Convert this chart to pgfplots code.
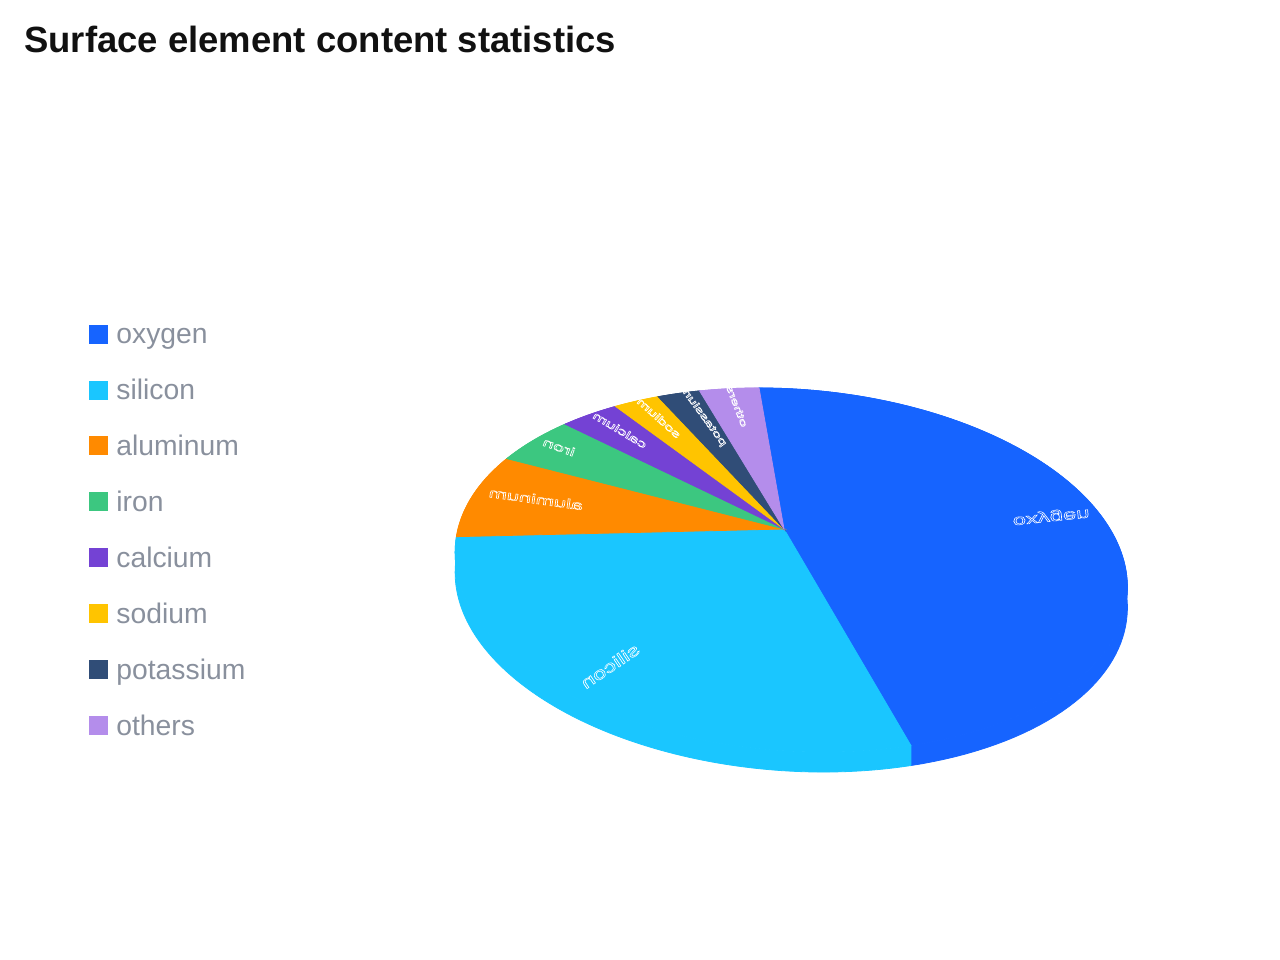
\documentclass[border=0pt]{standalone}
\usepackage{pgfplots}
\pgfplotsset{compat=1.18}
\usepackage{fontspec}
\setmainfont{Liberation Sans}
\definecolor{cOxy}{HTML}{1664FF}
\definecolor{cSil}{HTML}{1AC6FF}
\definecolor{cAlu}{HTML}{FF8A00}
\definecolor{cIron}{HTML}{3CC780}
\definecolor{cCal}{HTML}{7442D4}
\definecolor{cSod}{HTML}{FFC400}
\definecolor{cPot}{HTML}{304D77}
\definecolor{cOth}{HTML}{B48DEB}
\definecolor{legtext}{HTML}{89909D}
\definecolor{titletext}{HTML}{111111}

% data: cumulative share before the slice, share (%), colour
\newcommand\allslices[1]{%
  #1{0}{46.6}{cOxy}%
  #1{46.6}{27.7}{cSil}%
  #1{74.3}{8.1}{cAlu}%
  #1{82.4}{5.0}{cIron}%
  #1{87.4}{3.6}{cCal}%
  #1{91.0}{2.8}{cSod}%
  #1{93.8}{2.6}{cPot}%
  #1{96.4}{3.6}{cOth}%
}
\newcommand\wall[3]{%
  \pgfmathsetmacro\tA{90-3.6*#1}%
  \pgfmathsetmacro\tB{90-3.6*(#1+#2)}%
  \edef\next{\noexpand\addplot[fill=#3, draw=#3, line width=0.4bp, domain=0:2.2, samples=221]}%
  \next ({PX(\tA+(\tB-\tA)*min(1,1.1-abs(1.1-x)))},{PY(\tA+(\tB-\tA)*min(1,1.1-abs(1.1-x)))+20*(x>1.1)}) -- cycle;%
}
\newcommand\face[3]{%
  \pgfmathsetmacro\tA{90-3.6*#1}%
  \pgfmathsetmacro\tB{90-3.6*(#1+#2)}%
  \edef\next{\noexpand\addplot[fill=#3, draw=#3, line width=0.4bp, domain=\tB:\tA, samples=120]}%
  \next ({PX(x)},{PY(x)}) -- (axis cs:784,529) -- cycle;%
}
\newcommand\legitem[4]{% baseline y, top y, name, colour
  \fill[#4] (axis cs:88.5,#2) rectangle (axis cs:107.5,#1);
  \node[anchor=base west, inner sep=0pt, text=legtext, font=\fontsize{14.2}{14.2}\selectfont] at (axis cs:116,#1) {#3};
}
% outlined (stroked) white text
\newcommand\outl[1]{\special{pdf:code 1 Tr 0.35 w 1 1 1 RG}#1\special{pdf:code 0 Tr}}

\begin{document}
\begin{tikzpicture}
\begin{axis}[scale only axis, width=640bp, height=480bp,
  xmin=0, xmax=1280, ymin=0, ymax=960, y dir=reverse,
  hide axis, clip=false,
  declare function={PX(\t)=784+(326*cos(\t)-30.6*sin(\t))/(1+0.2253*sin(\t));
                    PY(\t)=529-172.8*sin(\t)/(1+0.2253*sin(\t));}]
\allslices\wall
\allslices\face

% slice labels (mirrored, in the disc plane)
\tikzset{lab/.style={text=white, inner sep=0pt}}
\node[lab, rotate=6, yscale=-0.62, font=\fontsize{12}{12}\selectfont] at (axis cs:1051,516) {\outl{oxygen}};
\node[lab, rotate=214, yscale=-0.7, font=\fontsize{12}{12}\selectfont] at (axis cs:610,666) {\outl{silicon}};
\node[lab, rotate=172, yscale=-0.6, font=\fontsize{11}{11}\selectfont] at (axis cs:536,499) {\outl{aluminum}};
\node[lab, rotate=160, yscale=-0.6, font=\fontsize{10}{10}\selectfont] at (axis cs:559,447) {\outl{iron}};
\node[lab, rotate=149, yscale=-0.6, font=\fontsize{9}{9}\selectfont] at (axis cs:620,430) {\outl{calcium}};
\node[lab, rotate=138, yscale=-0.6, font=\fontsize{8.5}{8.5}\selectfont] at (axis cs:659,418) {\outl{sodium}};
\node[lab, rotate=126, yscale=-0.6, font=\fontsize{8}{8}\selectfont] at (axis cs:703,416) {\outl{potassium}};
\node[lab, rotate=111, yscale=-0.6, font=\fontsize{8}{8}\selectfont] at (axis cs:737,406) {\outl{others}};

% title
\node[anchor=base west, inner sep=0pt, text=titletext, font=\fontsize{18.3}{18.3}\selectfont\bfseries] at (axis cs:24,52) {Surface element content statistics};

% legend
\legitem{343.5}{324.5}{oxygen}{cOxy}
\legitem{399.5}{380.5}{silicon}{cSil}
\legitem{455.5}{436.5}{aluminum}{cAlu}
\legitem{511.5}{492.5}{iron}{cIron}
\legitem{567.5}{548.5}{calcium}{cCal}
\legitem{623.5}{604.5}{sodium}{cSod}
\legitem{679.5}{660.5}{potassium}{cPot}
\legitem{735.5}{716.5}{others}{cOth}
\path (axis cs:0,0) rectangle (axis cs:1280,960);
\end{axis}
\end{tikzpicture}
\end{document}
